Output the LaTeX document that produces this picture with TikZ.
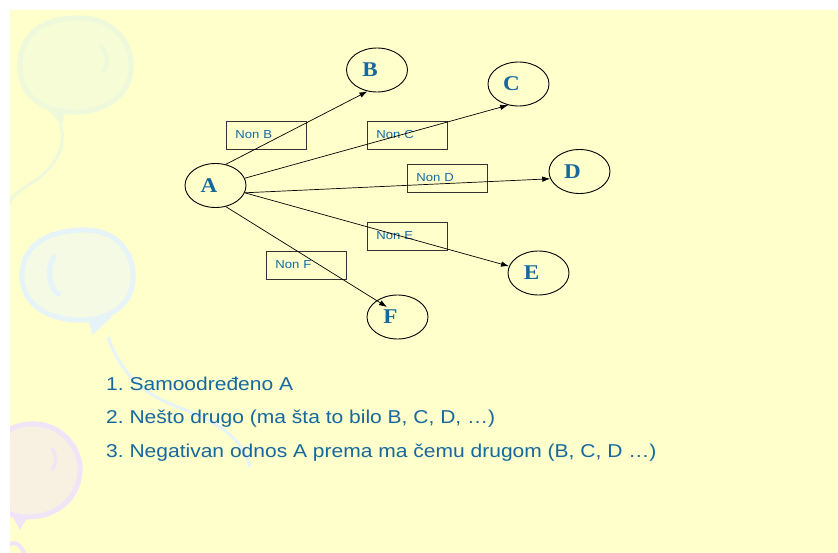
\documentclass[tikz,border=0pt]{standalone}
\usepackage{fontspec}
\setmainfont{Liberation Sans}
\newfontfamily\listfont[FakeStretch=1.13]{Liberation Sans}
\newfontfamily\letterfont[FakeStretch=1.1]{Liberation Serif}
\usetikzlibrary{arrows.meta,shapes.geometric}
\frenchspacing
\definecolor{bgyellow}{RGB}{255,255,204}
\definecolor{txtblue}{RGB}{22,104,158}
\definecolor{balgreenO}{RGB}{237,249,218}
\definecolor{balgreenF}{RGB}{246,252,214}
\definecolor{balblueO}{RGB}{230,244,248}
\definecolor{balblueF}{RGB}{244,250,228}
\definecolor{balpurpO}{RGB}{240,228,248}
\definecolor{balpurpF}{RGB}{248,240,224}
\tikzset{
  ellnode/.style={ellipse, draw=black, line width=0.9pt, inner sep=0pt,
    minimum width=61pt, minimum height=44pt,
    font={\letterfont\bfseries\fontsize{21}{21}\selectfont}, text=txtblue},
  nonbox/.style={rectangle, draw=black!80, line width=0.9pt, anchor=north west,
    minimum width=80pt, minimum height=28pt, inner sep=0pt, inner xsep=9pt,
    text width=62pt, align=left,
    font={\listfont\fontsize{11.6}{12}\selectfont}, text=txtblue},
  arrowline/.style={draw=black, line width=0.7pt, -{Latex[length=8pt,width=5.5pt]}},
  listtxt/.style={anchor=base west, inner sep=0pt,
    font={\listfont\fontsize{18.6}{20}\selectfont\frenchspacing}, text=txtblue},
}
\begin{document}
\begin{tikzpicture}[x=1pt,y=-1pt]
\useasboundingbox (0,0) rectangle (838,553);
\fill[white] (0,0) rectangle (838,553);
\fill[bgyellow] (10,10) rectangle (838,553);
% faint balloons
\begin{scope}
\clip (10,10) rectangle (838,553);
% balloon 1
\draw[balgreenO, fill=balgreenF, line width=5pt]
  (75,18) .. controls (115,16) and (134,45) .. (131,72)
  .. controls (128,98) and (100,114) .. (70,112)
  .. controls (38,110) and (18,92) .. (20,62)
  .. controls (22,32) and (45,19) .. (75,18) -- cycle;
\draw[balgreenO, line width=4pt] (100,45) .. controls (110,55) and (108,68) .. (102,72);
\fill[balgreenO] (48,110) -- (66,108) -- (62,125) -- cycle;
\draw[balgreenO, line width=3pt] (60,124) .. controls (68,145) and (55,168) .. (33,182)
  .. controls (20,190) and (12,196) .. (8,205);
% balloon 2
\draw[balblueO, fill=balblueF, line width=5pt]
  (80,230) .. controls (118,228) and (136,255) .. (133,282)
  .. controls (130,308) and (105,322) .. (75,320)
  .. controls (42,318) and (20,300) .. (22,272)
  .. controls (24,245) and (48,231) .. (80,230) -- cycle;
\draw[balblueO, line width=5pt] (55,255) .. controls (45,270) and (50,290) .. (60,295);
\fill[balblueO] (88,318) -- (112,317) -- (92,335) -- cycle;
\draw[balblueO, line width=3pt] (108,337) .. controls (118,365) and (135,390) .. (173,405)
  .. controls (205,418) and (240,430) .. (250,467);
% balloon 3
\draw[balpurpO, fill=balpurpF, line width=5pt]
  (30,424) .. controls (62,422) and (82,450) .. (80,472)
  .. controls (78,500) and (55,518) .. (25,517)
  .. controls (0,516) and (-8,500) .. (-6,470)
  .. controls (-4,440) and (5,425) .. (30,424) -- cycle;
\draw[balpurpO, line width=3pt] (52,448) .. controls (58,458) and (56,465) .. (52,470);
\fill[balpurpO] (12,515) -- (28,516) -- (20,530) -- cycle;
\draw[balpurpO, line width=4pt] (8,545) .. controls (16,540) and (22,546) .. (25,556);
\end{scope}
% nodes
\node[ellnode] (A) at (215.5,185.5) {A\hspace*{13pt}};
\node[ellnode] (B) at (377,70) {B\hspace*{14pt}};
\node[ellnode] (C) at (518.5,84) {C\hspace*{14pt}};
\node[ellnode] (D) at (579.5,171.5) {D\hspace*{14pt}};
\node[ellnode] (E) at (538.5,273) {E\hspace*{14pt}};
\node[ellnode] (F) at (397.5,317) {F\hspace*{14pt}};
\coordinate (Ftip) at (387,307);
% boxes
\node[nonbox] (nB) at (226,121) {\raisebox{2pt}{Non B}};
\node[nonbox] (nC) at (367,121) {\raisebox{2pt}{Non C}};
\node[nonbox] (nD) at (407,164.5) {\raisebox{2pt}{Non D}};
\node[nonbox] (nE) at (367,222.5) {\raisebox{2pt}{Non E}};
\node[nonbox] (nF) at (266,251.5) {\raisebox{2pt}{Non F}};
% connectors
\draw[arrowline] (A.64) -- (B.246);
\draw[arrowline] (A.14) -- (C.244);
\draw[arrowline] (A.-14) -- (D.194);
\draw[arrowline] (A.-14) -- (E.167);
\draw[arrowline] (A.-64) -- (Ftip);
% list
\node[listtxt] (l1) at (106,390) {1. Samoodređeno A};
\node[listtxt] (l2) at (106,423.5) {2. Nešto drugo (ma šta to bilo B, C, D, …)};
\node[listtxt] (l3) at (106,457) {3. Negativan odnos A prema ma čemu drugom (B, C, D …)};
\end{tikzpicture}
\end{document}
